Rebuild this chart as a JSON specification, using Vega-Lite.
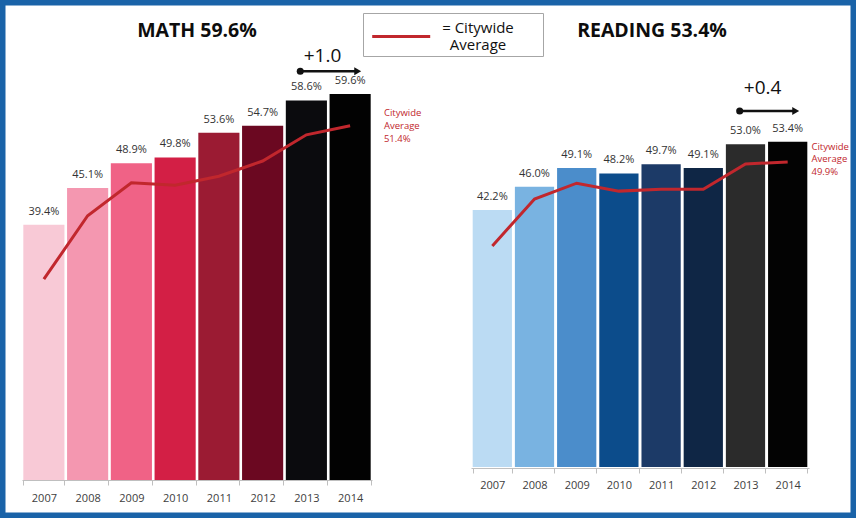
{
  "$schema": "https://vega.github.io/schema/vega-lite/v6.json",
  "width": 856,
  "height": 518,
  "autosize": {"type": "none"},
  "padding": 0,
  "background": "white",
  "config": {
    "view": {"stroke": "#1a63a8", "strokeWidth": 11},
    "font": "Open Sans",
    "text": {"font": "Open Sans"}
  },
  "datasets": {
    "math": [
      {"year": "2007", "score": 0.394, "avg": 0.310},
      {"year": "2008", "score": 0.451, "avg": 0.408},
      {"year": "2009", "score": 0.489, "avg": 0.459},
      {"year": "2010", "score": 0.498, "avg": 0.455},
      {"year": "2011", "score": 0.536, "avg": 0.469},
      {"year": "2012", "score": 0.547, "avg": 0.4925},
      {"year": "2013", "score": 0.586, "avg": 0.533},
      {"year": "2014", "score": 0.596, "avg": 0.547}
    ],
    "reading": [
      {"year": "2007", "score": 0.422, "avg": 0.363},
      {"year": "2008", "score": 0.460, "avg": 0.440},
      {"year": "2009", "score": 0.491, "avg": 0.466},
      {"year": "2010", "score": 0.482, "avg": 0.453},
      {"year": "2011", "score": 0.497, "avg": 0.456},
      {"year": "2012", "score": 0.491, "avg": 0.456},
      {"year": "2013", "score": 0.530, "avg": 0.4975},
      {"year": "2014", "score": 0.534, "avg": 0.501}
    ],
    "mathAnno": [
      {"from": "2013", "to": "2014", "mid": "2010", "score": 0.596, "delta": "+1.0", "title": "MATH 59.6%"}
    ],
    "readingAnno": [
      {"from": "2013", "to": "2014", "mid": "2010", "score": 0.534, "delta": "+0.4", "title": "READING 53.4%"}
    ]
  },
  "layer": [
    {
      "layer": [
        {
          "data": {"name": "math"},
          "mark": {"type": "bar"},
          "encoding": {
            "x": {
              "field": "year", "type": "nominal",
              "scale": {"domain": ["2007","2008","2009","2010","2011","2012","2013","2014"], "range": [22, 372], "paddingInner": 0.06, "paddingOuter": 0.03},
              "axis": {"orient": "bottom", "offset": -38, "title": null, "labelAngle": 0, "grid": false, "domainColor": "#bfbfbf", "tickColor": "#bfbfbf", "tickSize": 5, "tickBand": "extent", "labelFont": "Open Sans", "labelFontSize": 11, "labelColor": "#404040", "labelPadding": 7}
            },
            "y": {"field": "score", "type": "quantitative", "scale": {"domain": [0, 0.6], "range": [480, 91.4]}, "axis": null},
            "color": {
              "field": "year", "type": "nominal",
              "scale": {"domain": ["2007","2008","2009","2010","2011","2012","2013","2014"], "range": ["#f8c9d6","#f497b0","#f06286","#d31f45","#9b1b33","#6b0821","#0b0b0e","#020202"]},
              "legend": null
            }
          }
        },
        {
          "data": {"name": "math"},
          "mark": {"type": "text", "baseline": "alphabetic", "dy": -10, "fontSize": 11, "fill": "#333333"},
          "encoding": {
            "x": {"field": "year", "type": "nominal"},
            "y": {"field": "score", "type": "quantitative"},
            "text": {"field": "score", "format": ".1%"}
          }
        },
        {
          "data": {"name": "math"},
          "mark": {"type": "line", "strokeWidth": 3},
          "encoding": {
            "x": {"field": "year", "type": "nominal"},
            "y": {"field": "avg", "type": "quantitative"},
            "stroke": {
              "datum": "= Citywide Average", "type": "nominal",
              "scale": {"range": ["#c1272d"]},
              "legend": {"orient": "none", "legendX": 363, "legendY": 13, "title": ".", "titleOrient": "right", "titleColor": "white", "titleFontSize": 6, "titlePadding": 24, "strokeColor": "#a6a6a6", "fillColor": "white", "padding": 3, "symbolType": "M-0.53,0.9H5.27", "symbolSize": 400, "symbolStrokeWidth": 3, "labelFont": "Open Sans", "labelFontSize": 15, "labelColor": "#111111", "labelLimit": 300, "labelOffset": 89, "labelAlign": "center", "labelExpr": "['= Citywide', 'Average']"}
            }
          }
        },
        {
          "data": {"name": "math"},
          "transform": [{"filter": "datum.year === '2014'"}],
          "mark": {"type": "text", "align": "left", "baseline": "middle", "dx": 33.8, "dy": -12.3, "fontSize": 9.5, "lineHeight": 13, "fill": "#c1272d", "text": ["Citywide", "Average", "51.4%"]},
          "encoding": {
            "x": {"field": "year", "type": "nominal"},
            "y": {"field": "avg", "type": "quantitative"}
          }
        },
        {
          "data": {"name": "mathAnno"},
          "mark": {"type": "rule", "strokeWidth": 2.5, "color": "#111111", "xOffset": -6.1, "x2Offset": 5, "yOffset": -22.7},
          "encoding": {
            "x": {"field": "from", "type": "nominal"},
            "x2": {"field": "to"},
            "y": {"field": "score", "type": "quantitative"}
          }
        },
        {
          "data": {"name": "mathAnno"},
          "mark": {"type": "point", "shape": "circle", "filled": true, "opacity": 1, "size": 50, "color": "#111111", "xOffset": -6.1, "yOffset": -22.7},
          "encoding": {
            "x": {"field": "from", "type": "nominal"},
            "y": {"field": "score", "type": "quantitative"}
          }
        },
        {
          "data": {"name": "mathAnno"},
          "mark": {"type": "point", "shape": "triangle-right", "filled": true, "opacity": 1, "size": 64, "color": "#111111", "xOffset": 7.6, "yOffset": -22.7},
          "encoding": {
            "x": {"field": "to", "type": "nominal"},
            "y": {"field": "score", "type": "quantitative"}
          }
        },
        {
          "data": {"name": "mathAnno"},
          "mark": {"type": "text", "baseline": "middle", "dx": 16.1, "dy": -38, "fontSize": 19, "fill": "#111111"},
          "encoding": {
            "x": {"field": "from", "type": "nominal"},
            "y": {"field": "score", "type": "quantitative"},
            "text": {"field": "delta"}
          }
        },
        {
          "data": {"name": "mathAnno"},
          "mark": {"type": "text", "baseline": "middle", "dx": 21.85, "dy": -63, "fontSize": 19.5, "fontWeight": "bold", "fill": "#0d0d0d"},
          "encoding": {
            "x": {"field": "mid", "type": "nominal"},
            "y": {"field": "score", "type": "quantitative"},
            "text": {"field": "title"}
          }
        }
      ]
    },
    {
      "layer": [
        {
          "data": {"name": "reading"},
          "mark": {"type": "bar"},
          "encoding": {
            "x": {
              "field": "year", "type": "nominal",
              "scale": {"domain": ["2007","2008","2009","2010","2011","2012","2013","2014"], "range": [471, 809], "paddingInner": 0.07, "paddingOuter": 0.04},
              "axis": {"orient": "bottom", "offset": -50, "title": null, "labelAngle": 0, "grid": false, "domainColor": "#bfbfbf", "tickColor": "#bfbfbf", "tickSize": 5, "tickBand": "extent", "labelFont": "Open Sans", "labelFontSize": 11, "labelColor": "#404040", "labelPadding": 6}
            },
            "y": {"field": "score", "type": "quantitative", "scale": {"domain": [0, 0.6], "range": [467, 101.6]}, "axis": null},
            "color": {
              "field": "year", "type": "nominal",
              "scale": {"domain": ["2007","2008","2009","2010","2011","2012","2013","2014"], "range": ["#bbdbf3","#79b3e1","#4b8dcb","#0c4c8b","#1c3a67","#0f2645","#2b2b2b","#030303"]},
              "legend": null
            }
          }
        },
        {
          "data": {"name": "reading"},
          "mark": {"type": "text", "baseline": "alphabetic", "dy": -10, "fontSize": 11, "fill": "#333333"},
          "encoding": {
            "x": {"field": "year", "type": "nominal"},
            "y": {"field": "score", "type": "quantitative"},
            "text": {"field": "score", "format": ".1%"}
          }
        },
        {
          "data": {"name": "reading"},
          "mark": {"type": "line", "strokeWidth": 3},
          "encoding": {
            "x": {"field": "year", "type": "nominal"},
            "y": {"field": "avg", "type": "quantitative"},
            "stroke": {
              "datum": "= Citywide Average", "type": "nominal",
              "scale": {"range": ["#c1272d"]},
              "legend": {"orient": "none", "legendX": 363, "legendY": 13, "title": ".", "titleOrient": "right", "titleColor": "white", "titleFontSize": 6, "titlePadding": 24, "strokeColor": "#a6a6a6", "fillColor": "white", "padding": 3, "symbolType": "M-0.53,0.9H5.27", "symbolSize": 400, "symbolStrokeWidth": 3, "labelFont": "Open Sans", "labelFontSize": 15, "labelColor": "#111111", "labelLimit": 300, "labelOffset": 89, "labelAlign": "center", "labelExpr": "['= Citywide', 'Average']"}
            }
          }
        },
        {
          "data": {"name": "reading"},
          "transform": [{"filter": "datum.year === '2014'"}],
          "mark": {"type": "text", "align": "left", "baseline": "middle", "dx": 23.8, "dy": -14.7, "fontSize": 9.5, "lineHeight": 12.2, "fill": "#c1272d", "text": ["Citywide", "Average", "49.9%"]},
          "encoding": {
            "x": {"field": "year", "type": "nominal"},
            "y": {"field": "avg", "type": "quantitative"}
          }
        },
        {
          "data": {"name": "readingAnno"},
          "mark": {"type": "rule", "strokeWidth": 2.5, "color": "#111111", "xOffset": -5.8, "x2Offset": 5.5, "yOffset": -30.8},
          "encoding": {
            "x": {"field": "from", "type": "nominal"},
            "x2": {"field": "to"},
            "y": {"field": "score", "type": "quantitative"}
          }
        },
        {
          "data": {"name": "readingAnno"},
          "mark": {"type": "point", "shape": "circle", "filled": true, "opacity": 1, "size": 50, "color": "#111111", "xOffset": -5.8, "yOffset": -30.8},
          "encoding": {
            "x": {"field": "from", "type": "nominal"},
            "y": {"field": "score", "type": "quantitative"}
          }
        },
        {
          "data": {"name": "readingAnno"},
          "mark": {"type": "point", "shape": "triangle-right", "filled": true, "opacity": 1, "size": 64, "color": "#111111", "xOffset": 8, "yOffset": -30.8},
          "encoding": {
            "x": {"field": "to", "type": "nominal"},
            "y": {"field": "score", "type": "quantitative"}
          }
        },
        {
          "data": {"name": "readingAnno"},
          "mark": {"type": "text", "baseline": "middle", "dx": 17.1, "dy": -53.5, "fontSize": 19, "fill": "#111111"},
          "encoding": {
            "x": {"field": "from", "type": "nominal"},
            "y": {"field": "score", "type": "quantitative"},
            "text": {"field": "delta"}
          }
        },
        {
          "data": {"name": "readingAnno"},
          "mark": {"type": "text", "baseline": "middle", "dx": 33.1, "dy": -110.8, "fontSize": 19.5, "fontWeight": "bold", "fill": "#0d0d0d"},
          "encoding": {
            "x": {"field": "mid", "type": "nominal"},
            "y": {"field": "score", "type": "quantitative"},
            "text": {"field": "title"}
          }
        }
      ]
    }
  ],
  "resolve": {
    "scale": {"x": "independent", "y": "independent", "color": "independent"},
    "axis": {"x": "independent"}
  }
}
